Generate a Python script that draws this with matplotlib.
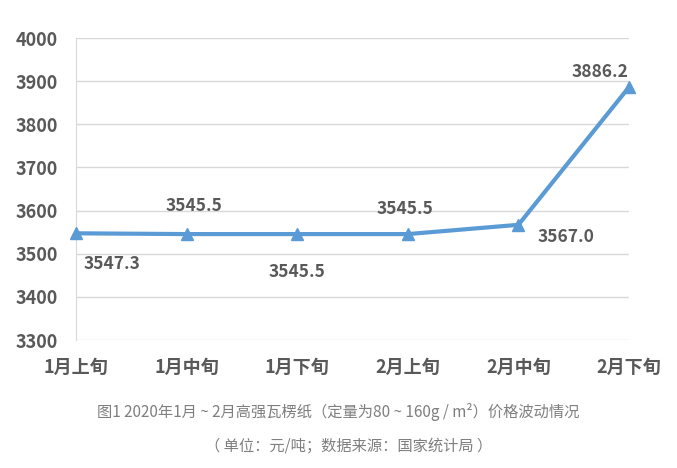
import matplotlib
matplotlib.use("Agg")
import matplotlib.pyplot as plt

plt.rcParams['font.family'] = ['Noto Sans CJK SC', 'DejaVu Sans']

periods = ['1月上旬', '1月中旬', '1月下旬', '2月上旬', '2月中旬', '2月下旬']
prices = [3547.3, 3545.5, 3545.5, 3545.5, 3567.0, 3886.2]
labels = ['3547.3', '3545.5', '3545.5', '3545.5', '3567.0', '3886.2']
yticks = [3300, 3400, 3500, 3600, 3700, 3800, 3900, 4000]

# label offsets in points (dx, dy)
offsets = [(26, -22), (5, 20), (0, -27), (-2, 18), (34, -9), (-21, 11)]

grey = '#595959'
blue = '#5B9BD5'

fig = plt.figure(figsize=(6.77, 4.68), dpi=100)
ax = fig.add_axes([0.1123, 0.2735, 0.8168, 0.6453])

x = list(range(len(periods)))
ax.plot(x, prices, color=blue, lw=3, marker='^', ms=8, clip_on=False, zorder=3)

for xi, yi, lab, (dx, dy) in zip(x, prices, labels, offsets):
    ax.annotate(lab, (xi, yi), xytext=(dx, dy), textcoords='offset points',
                ha='center', va='center', fontsize=12.5, fontweight='bold', color=grey)

ax.set_xlim(0, 5)
ax.set_ylim(3300, 4000)
ax.set_yticks(yticks)
ax.set_xticks(x)
ax.set_xticklabels(periods)
ax.grid(axis='y', color='#d9d9d9', lw=1)
ax.set_axisbelow(True)
for s in ['top', 'right', 'bottom']:
    ax.spines[s].set_visible(False)
ax.spines['left'].set_color('#d9d9d9')
ax.tick_params(axis='both', length=0, labelsize=13, labelcolor=grey)
ax.tick_params(axis='y', pad=13)
ax.tick_params(axis='x', pad=13)
for t in ax.get_xticklabels() + ax.get_yticklabels():
    t.set_fontweight('bold')

fig.text(0.5, 0.119, '图1 2020年1月 ~ 2月高强瓦楞纸（定量为80 ~ 160g / m²）价格波动情况',
         ha='center', va='center', fontsize=11, color='#7f7f7f')
fig.text(0.515, 0.048, '（ 单位：元/吨；数据来源：国家统计局 ）',
         ha='center', va='center', fontsize=11, color='#7f7f7f')

fig.savefig('out.png', dpi=100)
